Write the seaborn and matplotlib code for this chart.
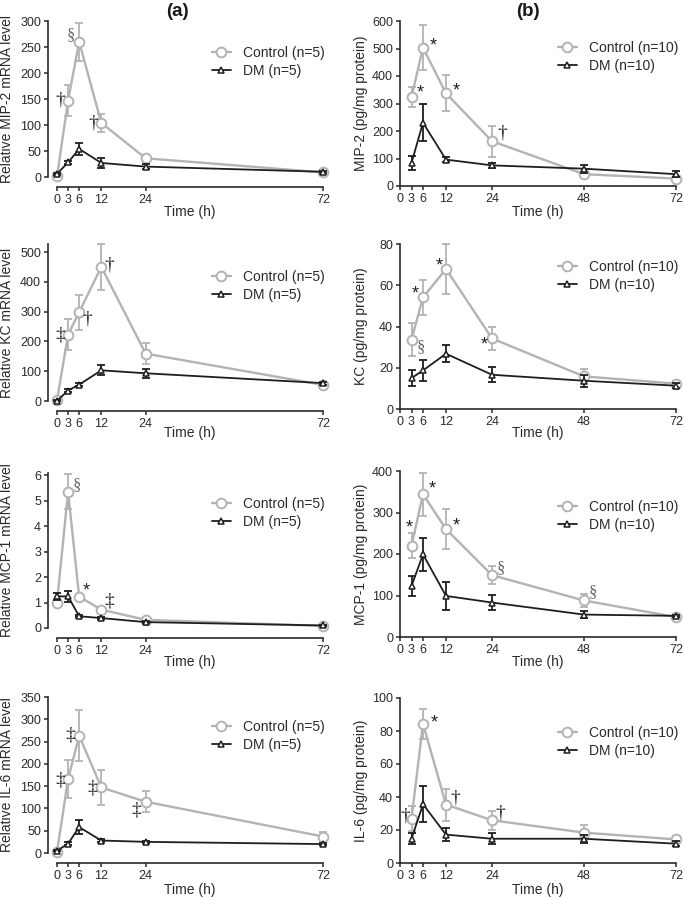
import matplotlib
matplotlib.use("Agg")
import matplotlib.pyplot as plt
import seaborn as sns
import numpy as np
import pandas as pd

# time points (h)
time_mrna = [0, 3, 6, 12, 24, 72]
time_protein = [3, 6, 12, 24, 48, 72]
xticks_mrna = [0, 3, 6, 12, 24, 72]
xticks_protein = [0, 3, 6, 12, 24, 48, 72]

# (a) relative mRNA levels, mean and SEM
mip2_mrna_ctrl = [1, 147, 260, 104, 36, 9]
mip2_mrna_ctrl_err = [1, 29, 37, 18, 5, 2]
mip2_mrna_dm = [6, 28, 54, 27, 20, 10]
mip2_mrna_dm_err = [2, 3, 12, 9, 5, 2]

kc_mrna_ctrl = [2, 223, 298, 450, 159, 54]
kc_mrna_ctrl_err = [1, 53, 59, 77, 36, 3]
kc_mrna_dm = [1, 35, 55, 103, 93, 60]
kc_mrna_dm_err = [1, 4, 5, 17, 15, 5]

mcp1_mrna_ctrl = [1.0, 5.35, 1.23, 0.72, 0.32, 0.08]
mcp1_mrna_ctrl_err = [0.05, 0.68, 0.05, 0.05, 0.03, 0.02]
mcp1_mrna_dm = [1.24, 1.24, 0.46, 0.39, 0.23, 0.10]
mcp1_mrna_dm_err = [0.15, 0.22, 0.04, 0.04, 0.03, 0.02]

il6_mrna_ctrl = [2, 166, 263, 147, 115, 37]
il6_mrna_ctrl_err = [1, 42, 57, 40, 24, 11]
il6_mrna_dm = [5, 21, 58, 28, 25, 20]
il6_mrna_dm_err = [1, 3, 15, 3, 3, 3]

# (b) protein levels (pg/mg protein), mean and SEM
mip2_prot_ctrl = [324, 503, 337, 163, 43, 27]
mip2_prot_ctrl_err = [37, 83, 66, 57, 8, 5]
mip2_prot_dm = [84, 230, 96, 75, 63, 43]
mip2_prot_dm_err = [24, 68, 8, 8, 15, 12]

kc_prot_ctrl = [33.6, 54.1, 67.9, 34.2, 15.8, 12.3]
kc_prot_ctrl_err = [8, 8.3, 12, 5.4, 3.6, 1.5]
kc_prot_dm = [15, 18.7, 26.8, 16.6, 13.7, 11.3]
kc_prot_dm_err = [3.7, 5.2, 4, 3.6, 3, 1.2]

mcp1_prot_ctrl = [220, 344, 260, 149, 88, 48]
mcp1_prot_ctrl_err = [30, 52, 48, 22, 15, 3]
mcp1_prot_dm = [123, 199, 99, 83, 54, 51]
mcp1_prot_dm_err = [23, 40, 34, 19, 9, 3]

il6_prot_ctrl = [26.9, 84.4, 35.4, 25.9, 18.4, 14.3]
il6_prot_ctrl_err = [7.4, 9, 9.7, 5.6, 4.8, 2]
il6_prot_dm = [14.7, 35.6, 17.2, 14.7, 14.7, 11.7]
il6_prot_dm_err = [3.4, 11, 4, 3.4, 2.5, 1.5]

ylabels_mrna = ["Relative MIP-2 mRNA level", "Relative KC mRNA level",
                "Relative MCP-1 mRNA level", "Relative IL-6 mRNA level"]
ylabels_prot = ["MIP-2 (pg/mg protein)", "KC (pg/mg protein)",
                "MCP-1 (pg/mg protein)", "IL-6 (pg/mg protein)"]

# significance marks on the control series: (time, symbol, dx px, dy px)
marks_mrna = [
    [(3, "\u2020", -8, 1), (6, "\u00a7", -8, 7), (12, "\u2020", -8, 0)],
    [(3, "\u2021", -8, 0), (6, "\u2020", 8, -7), (12, "\u2020", 8, 2)],
    [(3, "\u00a7", 9, 6), (6, "*", 7, 6), (12, "\u2021", 8, 9)],
    [(3, "\u2021", -8, -1), (6, "\u2021", -9, 1), (12, "\u2021", -9, -1), (24, "\u2021", -9, -8)],
]
marks_prot = [
    [(3, "*", 9, 4), (6, "*", 10, 2), (12, "*", 10, 2), (24, "\u2020", 10, 8)],
    [(3, "\u00a7", 9, -7), (6, "*", -8, 3), (12, "*", -7, 3), (24, "*", -8, -7)],
    [(3, "*", -2, 18), (6, "*", 9, 5), (12, "*", 10, 3), (24, "\u00a7", 9, 7), (48, "\u00a7", 9, 8)],
    [(3, "\u2020", -6, 3), (6, "*", 11, 1), (12, "\u2020", 9, 7), (24, "\u2020", 8, 7)],
]

W, H = 684, 899
CTRL = "#b3b3b3"
DM = "#1e1e1e"
INK = "#2a2a2a"


def rect(x0, x1, ytop, ybot):
    return [x0 / W, 1 - ybot / H, (x1 - x0) / W, (ybot - ytop) / H]


def draw(ax, times, ctrl, ctrl_err, dm, dm_err, n):
    df = pd.DataFrame({
        "time": times * 2,
        "mean": ctrl + dm,
        "sem": ctrl_err + dm_err,
        "group": ["Control (n=%d)" % n] * len(times) + ["DM (n=%d)" % n] * len(times),
    })
    styles = {
        "Control (n=%d)" % n: dict(color=CTRL, marker="o", markersize=7, lw=1.7, mew=1.4, z=3),
        "DM (n=%d)" % n: dict(color=DM, marker="^", markersize=5, lw=1.3, mew=1.1, z=4),
    }
    for grp, st in styles.items():
        sub = df[df["group"] == grp]
        ax.errorbar(sub["time"], sub["mean"], yerr=sub["sem"], fmt="none",
                    ecolor=st["color"], elinewidth=1.3, capsize=2.6, capthick=1.3,
                    clip_on=False, zorder=st["z"] - 0.5)
        sns.lineplot(data=sub, x="time", y="mean", ax=ax, color=st["color"],
                     marker=st["marker"], markersize=st["markersize"], mfc="white",
                     mec=st["color"], mew=st["mew"], lw=st["lw"], errorbar=None,
                     label=grp, clip_on=False, zorder=st["z"])


sns.set_style("ticks")
plt.rcParams["font.family"] = ["Liberation Sans", "DejaVu Sans"]

fig = plt.figure(figsize=(W / 100, H / 100), dpi=100)

left_rows = [(21, 177), (244, 401), (473, 628), (697, 853)]
right_rows = [(21, 186), (244, 409), (471, 637), (698, 863)]
left_ylim = [300, 527, 6.08, 350]
left_ytop = [300, 500, 6, 350]
left_step = [50, 100, 1, 50]
right_ylim = [600, 80, 400, 100]
right_step = [100, 20, 100, 20]
xlabel_y = [212, 433, 662, 890]
leg_left_y = [53, 277, 504, 727]
leg_right_y = [48, 267, 507, 733]

mrna_sets = [
    (mip2_mrna_ctrl, mip2_mrna_ctrl_err, mip2_mrna_dm, mip2_mrna_dm_err),
    (kc_mrna_ctrl, kc_mrna_ctrl_err, kc_mrna_dm, kc_mrna_dm_err),
    (mcp1_mrna_ctrl, mcp1_mrna_ctrl_err, mcp1_mrna_dm, mcp1_mrna_dm_err),
    (il6_mrna_ctrl, il6_mrna_ctrl_err, il6_mrna_dm, il6_mrna_dm_err),
]
prot_sets = [
    (mip2_prot_ctrl, mip2_prot_ctrl_err, mip2_prot_dm, mip2_prot_dm_err),
    (kc_prot_ctrl, kc_prot_ctrl_err, kc_prot_dm, kc_prot_dm_err),
    (mcp1_prot_ctrl, mcp1_prot_ctrl_err, mcp1_prot_dm, mcp1_prot_dm_err),
    (il6_prot_ctrl, il6_prot_ctrl_err, il6_prot_dm, il6_prot_dm_err),
]

for col in range(2):
    for row in range(4):
        if col == 0:
            x0, x1 = 57, 323
            ytop, ybot = left_rows[row]
            times, ticks, n = time_mrna, xticks_mrna, 5
            ctrl, ctrl_err, dm, dm_err = mrna_sets[row]
            ylab, marks = ylabels_mrna[row], marks_mrna[row]
            ymax, ystep, ytickmax = left_ylim[row], left_step[row], left_ytop[row]
            leg_x, leg_y = 212, leg_left_y[row]
            ylab_x = 14
        else:
            x0, x1 = 400, 676
            ytop, ybot = right_rows[row]
            times, ticks, n = time_protein, xticks_protein, 10
            ctrl, ctrl_err, dm, dm_err = prot_sets[row]
            ylab, marks = ylabels_prot[row], marks_prot[row]
            ymax, ystep, ytickmax = right_ylim[row], right_step[row], right_ylim[row]
            leg_x, leg_y = 558, leg_right_y[row]
            ylab_x = 368

        ax = fig.add_axes(rect(x0, x1, ytop, ybot))
        draw(ax, times, ctrl, ctrl_err, dm, dm_err, n)

        ax.set_xlim(0, 72)
        ax.set_ylim(0, ymax)
        ax.set_xticks(ticks)
        ax.set_yticks(np.arange(0, ytickmax + ystep * 0.5, ystep))
        if col == 0:
            sns.despine(ax=ax, offset={"left": 6.5, "bottom": 7})
        else:
            sns.despine(ax=ax)
        for sp in ("left", "bottom"):
            ax.spines[sp].set_color(INK)
            ax.spines[sp].set_linewidth(1.2)
        ax.tick_params(direction="out", length=3, width=1.1, color=INK,
                       labelsize=9, labelcolor=INK, pad=2)

        ax.set_ylabel(ylab, fontsize=10, color=INK)
        ax.yaxis.set_label_coords((ylab_x - x0) / (x1 - x0), 0.5)
        ax.set_xlabel("Time (h)", fontsize=10, color=INK)
        ax.xaxis.set_label_coords(0.5, -((xlabel_y[row] - 7) - ybot) / (ybot - ytop))

        for t, sym, dx, dy in marks:
            yv = ctrl[times.index(t)]
            if sym == "*":
                fam, size, colr = ["Liberation Sans", "DejaVu Sans"], 13, "#222222"
            elif sym == "\u00a7":
                fam, size, colr = ["Liberation Serif", "DejaVu Serif"], 12, "#666666"
            else:
                fam, size, colr = ["Liberation Serif", "DejaVu Serif"], 14, "#222222"
            ax.annotate(sym, xy=(t, yv), xytext=(dx, dy), textcoords="offset pixels",
                        ha="center", va="center", fontsize=size, color=colr,
                        family=fam, annotation_clip=False)

        ax.legend(loc="upper left", bbox_to_anchor=(leg_x / W, 1 - (leg_y - 7) / H),
                  bbox_transform=fig.transFigure, frameon=False, fontsize=10,
                  borderpad=0, borderaxespad=0, handlelength=1.35,
                  handletextpad=0.85, labelspacing=0.3, labelcolor=INK)

fig.text(177 / W, 1 - 12 / H, "(a)", ha="center", va="center", fontsize=13.5,
         fontweight="bold", color="#1a1a1a")
fig.text(528 / W, 1 - 12 / H, "(b)", ha="center", va="center", fontsize=13.5,
         fontweight="bold", color="#1a1a1a")

fig.savefig("out.png", dpi=100)
